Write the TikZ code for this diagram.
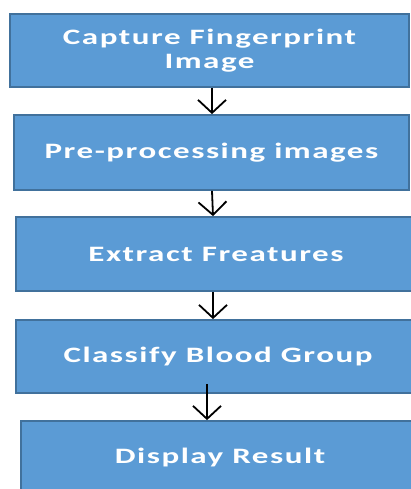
\documentclass[tikz,border=0pt]{standalone}
\usepackage{fontspec}
\newfontfamily\boxfont[FakeStretch=1.5,LetterSpace=7]{Carlito}
\usetikzlibrary{arrows.meta}
\definecolor{boxfill}{HTML}{5B9BD5}
\definecolor{boxline}{HTML}{41719C}
\tikzset{
  stepbox/.style={draw=boxline, line width=1.8pt, fill=boxfill, rectangle,
    inner sep=0pt, align=center, text=white,
    font=\boxfont\bfseries\fontsize{22}{24}\selectfont},
  arr/.style={draw=black, line width=1.8pt,
    -{Straight Barb[length=13pt,width=28pt,line width=1.8pt]}}
}
\begin{document}
\begin{tikzpicture}[x=1pt,y=1pt]
\useasboundingbox (0,0) rectangle (411,-489);
\clip (0,0) rectangle (411,-489);
\node[stepbox, minimum width=399pt, minimum height=73pt] (b1) at (209.5,-50.5) {Capture Fingerprint\\Image};
\node[stepbox, minimum width=395pt, minimum height=75pt] (b2) at (211.5,-152.5) {Pre-processing images};
\node[stepbox, minimum width=400pt, minimum height=74pt] (b3) at (216,-254) {Extract Freatures};
\node[stepbox, minimum width=404pt, minimum height=73pt] (b4) at (218,-356.5) {Classify Blood Group};
\node[stepbox, minimum width=398pt, minimum height=74pt] (b5) at (220,-458) {Display Result};
\draw[arr] ([xshift=2.5pt]b1.south) -- ([xshift=0.5pt]b2.north);
\draw[arr] ([xshift=0.5pt]b2.south) -- ([xshift=-3pt]b3.north);
\draw[arr] ([xshift=-3pt]b3.south) -- ([xshift=-5pt]b4.north);
\draw[arr] ([xshift=-11pt,yshift=10pt]b4.south) -- ([xshift=-13pt]b5.north);
\end{tikzpicture}
\end{document}
